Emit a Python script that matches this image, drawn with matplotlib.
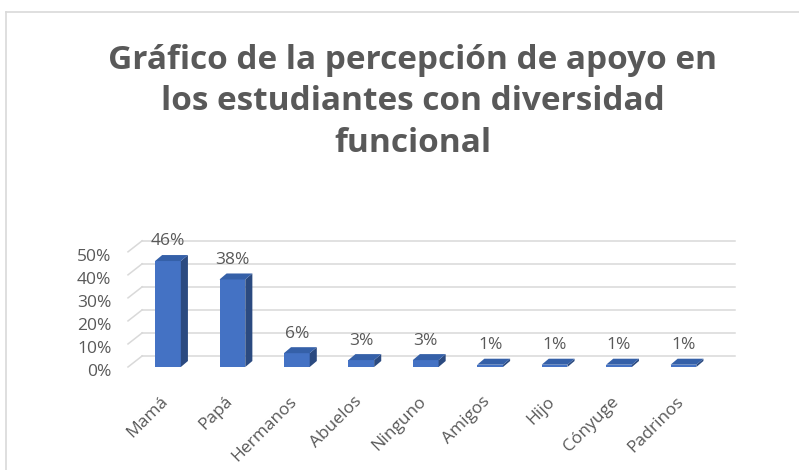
import matplotlib
matplotlib.use("Agg")
import matplotlib.pyplot as plt
from matplotlib.patches import Polygon
from matplotlib.lines import Line2D
import matplotlib.transforms as mtransforms

categories = ["Mamá", "Papá", "Hermanos", "Abuelos", "Ninguno", "Amigos", "Hijo", "Cónyuge", "Padrinos"]
values = [0.46, 0.38, 0.06, 0.03, 0.03, 0.01, 0.01, 0.01, 0.01]
value_labels = ["46%", "38%", "6%", "3%", "3%", "1%", "1%", "1%", "1%"]
yticks = [0, 0.1, 0.2, 0.3, 0.4, 0.5]
ytick_labels = ["0%", "10%", "20%", "30%", "40%", "50%"]
title = "Gráfico de la percepción de apoyo en\nlos estudiantes con diversidad\nfuncional"

FRONT = "#4472C4"
SIDE = "#2B4A80"
TOP = "#3560A8"
GRID = "#D9D9D9"
TXT = "#595959"
FONT = ["Open Sans", "DejaVu Sans"]

W, H = 799, 470
fig = plt.figure(figsize=(W / 100, H / 100), dpi=100)
fig.patch.set_facecolor("white")

# chart border (light grey, left and top visible)
fig.add_artist(Line2D([6 / W, 6 / W], [0, 1 - 12 / H], color=GRID, lw=1.2))
fig.add_artist(Line2D([6 / W, 1], [1 - 12 / H, 1 - 12 / H], color=GRID, lw=1.2))

fig.text(413 / W, 1 - 102 / H, title, ha="center", va="center", fontsize=24,
         fontweight="bold", color=TXT, family=FONT, linespacing=1.33)

left, right, bottom, top = 128, 735, 367, 238
ax = fig.add_axes([left / W, 1 - bottom / H, (right - left) / W, (bottom - top) / H])
xmin, xmax = -0.62, 8.8
ax.set_xlim(xmin, xmax)
ax.set_ylim(0, 0.56)
for s in ax.spines.values():
    s.set_visible(False)

dxg, dyg = 0.22, 0.048
for v in yticks:
    ax.plot([xmin + dxg, xmax], [v + dyg, v + dyg], color=GRID, lw=1.1, zorder=0, clip_on=False)
    ax.plot([xmin, xmin + dxg], [v, v + dyg], color=GRID, lw=1.1, zorder=0, clip_on=False)

w = 0.4
dx, dy = 0.11, 0.026
xs = list(range(len(categories)))
ax.bar(xs, values, width=w, color=FRONT, zorder=3, edgecolor="none")
for x, v, lab in zip(xs, values, value_labels):
    side = Polygon([(x + w / 2, 0), (x + w / 2 + dx, dy), (x + w / 2 + dx, v + dy), (x + w / 2, v)],
                   closed=True, facecolor=SIDE, edgecolor="none", zorder=3)
    topf = Polygon([(x - w / 2, v), (x + w / 2, v), (x + w / 2 + dx, v + dy), (x - w / 2 + dx, v + dy)],
                   closed=True, facecolor=TOP, edgecolor="none", zorder=3)
    ax.add_patch(side)
    ax.add_patch(topf)
    ax.annotate(lab, (x, v + dy), xytext=(0, 4), textcoords="offset points",
                ha="center", va="bottom", fontsize=12.5, color=TXT, family=FONT)

ax.set_yticks(yticks)
ax.set_yticklabels(ytick_labels, fontsize=12.5, color=TXT, family=FONT)
ax.tick_params(axis="y", length=0, pad=12)
off = mtransforms.ScaledTranslation(0, -3 / 100, fig.dpi_scale_trans)
for t in ax.get_yticklabels():
    t.set_transform(t.get_transform() + off)

ax.set_xticks(xs)
ax.set_xticklabels(categories, fontsize=12.5, color=TXT, family=FONT, rotation=45,
                   ha="right", va="top", rotation_mode="anchor")
ax.tick_params(axis="x", length=0, pad=19)
offx = mtransforms.ScaledTranslation(-8 / 100, 0, fig.dpi_scale_trans)
for t in ax.get_xticklabels():
    t.set_transform(t.get_transform() + offx)

fig.savefig("out.png", dpi=100, facecolor="white")
